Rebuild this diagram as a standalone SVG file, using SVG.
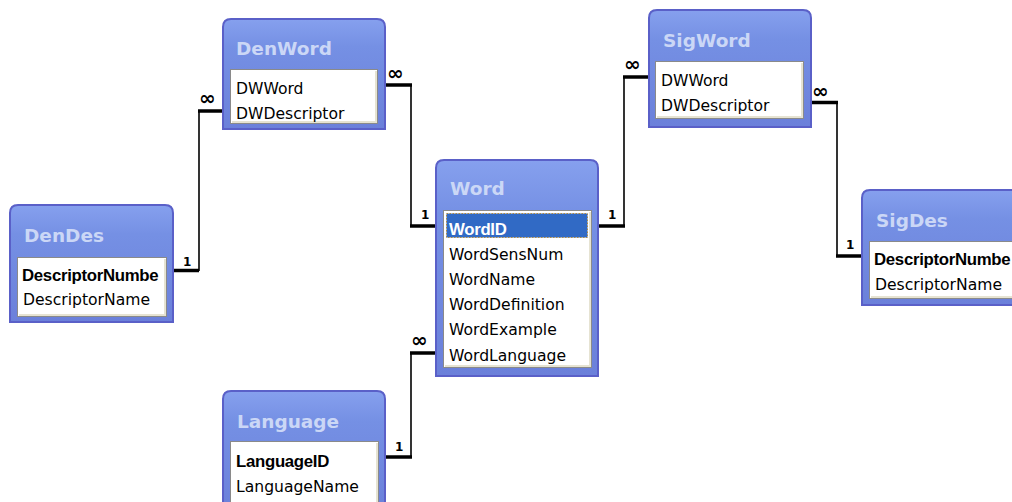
<svg xmlns="http://www.w3.org/2000/svg" width="1012" height="502" viewBox="0 0 1012 502">
<defs>
<linearGradient id="boxg" x1="0" y1="0" x2="0" y2="1">
<stop offset="0" stop-color="#86a0ee"/>
<stop offset="0.25" stop-color="#7590e4"/>
<stop offset="1" stop-color="#6b80da"/>
</linearGradient>
<clipPath id="c-dendes"><rect x="18" y="258" width="147" height="57"/></clipPath>
<clipPath id="c-sigdes"><rect x="870" y="242" width="142" height="55"/></clipPath>
</defs>
<style>
.box{fill:url(#boxg);stroke:#5a60c8;stroke-width:2}
.title{font-family:"DejaVu Sans","Liberation Sans",sans-serif;font-weight:bold;font-size:18.5px;fill:#cbd7f6}
.field{fill:#ffffff;stroke:#8a8a8a;stroke-width:1}
.edge{fill:none;stroke:#e6e3d2;stroke-width:2}
.row{font-family:"DejaVu Sans","Liberation Sans",sans-serif;font-size:15.6px;fill:#000}
.key{font-family:"Liberation Sans",Arial,sans-serif;font-size:16.8px;font-weight:bold;fill:#000;letter-spacing:-0.3px}
.thick{fill:none;stroke:#000;stroke-width:3.5}
.thin{fill:none;stroke:#000;stroke-width:1.6}
.one{font-family:"DejaVu Sans",sans-serif;font-size:12px;font-weight:bold;fill:#000}
.inf{font-family:"DejaVu Sans",sans-serif;font-size:20px;font-weight:bold;fill:#000}
</style>

<g id="connectors">
<!-- DenDes - DenWord -->
<path class="thick" d="M173,270.5 H199"/>
<path class="thin" d="M199,271 V111"/>
<path class="thick" d="M198,111 H223"/>
<text class="one" x="183" y="266">1</text>
<text class="inf" x="199" y="105">∞</text>
<!-- DenWord - Word -->
<path class="thick" d="M385,85 H412"/>
<path class="thin" d="M411,85 V226"/>
<path class="thick" d="M410,226 H436"/>
<text class="inf" x="387" y="80">∞</text>
<text class="one" x="421" y="219">1</text>
<!-- Word - SigWord -->
<path class="thick" d="M598,226 H625"/>
<path class="thin" d="M624,226 V77"/>
<path class="thick" d="M623,77 H649"/>
<text class="one" x="608" y="219">1</text>
<text class="inf" x="624" y="71">∞</text>
<!-- SigWord - SigDes -->
<path class="thick" d="M811,102.5 H838"/>
<path class="thin" d="M837,102 V256"/>
<path class="thick" d="M836,256 H862"/>
<text class="inf" x="812" y="98">∞</text>
<text class="one" x="846" y="249">1</text>
<!-- Word - Language -->
<path class="thick" d="M410,353 H436"/>
<path class="thin" d="M411,353 V457"/>
<path class="thick" d="M385,457 H412"/>
<text class="inf" x="411" y="347">∞</text>
<text class="one" x="395" y="451">1</text>
</g>

<g id="DenDes">
<path class="box" d="M10,322 V213 Q10,205 18,205 H165 Q173,205 173,213 V322 Z"/>
<text class="title" x="24" y="242">DenDes</text>
<rect class="field" x="17.5" y="257.5" width="149" height="59"/>
<path class="edge" d="M19,315 H165 V259"/>
<text class="key" x="22" y="281" clip-path="url(#c-dendes)">DescriptorNumbe</text>
<text class="row" x="23" y="305">DescriptorName</text>
</g>

<g id="DenWord">
<path class="box" d="M223,129 V27 Q223,19 231,19 H377 Q385,19 385,27 V129 Z"/>
<text class="title" x="236" y="55">DenWord</text>
<rect class="field" x="230.5" y="69.5" width="147" height="54"/>
<path class="edge" d="M232,122 H376 V71"/>
<text class="row" x="236" y="94">DWWord</text>
<text class="row" x="236" y="119">DWDescriptor</text>
</g>

<g id="Word">
<path class="box" d="M436,376 V168 Q436,160 444,160 H590 Q598,160 598,168 V376 Z"/>
<text class="title" x="450" y="195">Word</text>
<rect class="field" x="443.5" y="210.5" width="148" height="157"/>
<path class="edge" d="M445,366 H590 V212"/>
<rect x="446.5" y="213.5" width="141" height="24" fill="#316ac5" stroke="#b08a40" stroke-width="1" stroke-dasharray="1.5,1.5"/>
<text class="key" x="449" y="235" style="fill:#fff">WordID</text>
<text class="row" x="449" y="260">WordSensNum</text>
<text class="row" x="449" y="285">WordName</text>
<text class="row" x="449" y="310">WordDefinition</text>
<text class="row" x="449" y="335">WordExample</text>
<text class="row" x="449" y="361">WordLanguage</text>
</g>

<g id="SigWord">
<path class="box" d="M649,127 V18 Q649,10 657,10 H803 Q811,10 811,18 V127 Z"/>
<text class="title" x="663" y="47">SigWord</text>
<rect class="field" x="655.5" y="61.5" width="148" height="57"/>
<path class="edge" d="M657,117 H802 V63"/>
<text class="row" x="661" y="86">DWWord</text>
<text class="row" x="661" y="111">DWDescriptor</text>
</g>

<g id="SigDes">
<path class="box" d="M862,305 V198 Q862,190 870,190 H1016 Q1024,190 1024,198 V305 Z"/>
<text class="title" x="876" y="227">SigDes</text>
<rect class="field" x="869.5" y="241.5" width="160" height="57"/>
<path class="edge" d="M871,297 H1028"/>
<text class="key" x="874" y="265" clip-path="url(#c-sigdes)">DescriptorNumbe</text>
<text class="row" x="875" y="290">DescriptorName</text>
</g>

<g id="Language">
<path class="box" d="M223,512 V399 Q223,391 231,391 H377 Q385,391 385,399 V512 Z"/>
<text class="title" x="237" y="428">Language</text>
<rect class="field" x="230.5" y="441.5" width="148" height="70"/>
<path class="edge" d="M377,443 V510"/>
<text class="key" x="236" y="467">LanguageID</text>
<text class="row" x="236" y="492">LanguageName</text>
</g>
</svg>
